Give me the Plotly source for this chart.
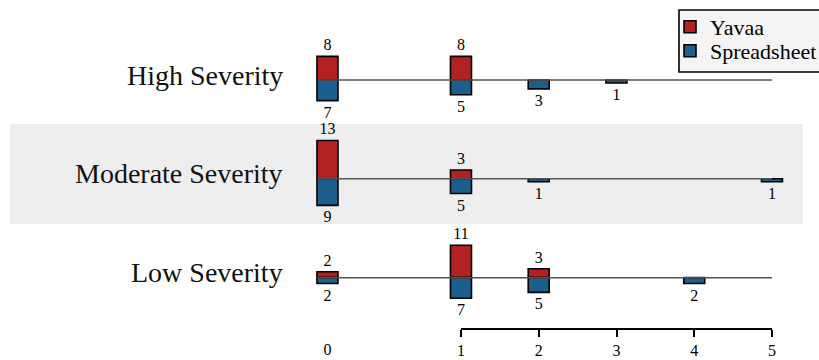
import plotly.graph_objects as go

# ---- data ----
severity_rows = ["High Severity", "Moderate Severity", "Low Severity"]
count_labels = ["0", "1", "2", "3", "4", "5"]

yavaa_high = [8, 8, 0, 0, 0, 0]
yavaa_moderate = [13, 3, 0, 0, 0, 0]
yavaa_low = [2, 11, 3, 0, 0, 0]

spreadsheet_high = [7, 5, 3, 1, 0, 0]
spreadsheet_moderate = [9, 5, 1, 0, 0, 1]
spreadsheet_low = [2, 7, 5, 0, 2, 0]

# ---- layout helpers ----
# the "0" column sits apart from the 1..5 scale (broken axis)
x_positions = [-0.717, 1, 2, 3, 4, 5]
row_baseline = [0, -33.5, -67]
bar_width = 0.27
FONT = "Liberation Serif, Times New Roman, serif"
RED = "#B22222"
BLUE = "#1C5E8E"

yavaa_rows = [yavaa_high, yavaa_moderate, yavaa_low]
sheet_rows = [spreadsheet_high, spreadsheet_moderate, spreadsheet_low]


def collect(rows, sign):
    xs, ys, bases, texts = [], [], [], []
    for base, vals in zip(row_baseline, rows):
        for xp, v in zip(x_positions, vals):
            if v == 0:
                continue
            xs.append(xp)
            ys.append(sign * v)
            bases.append(base)
            texts.append(str(v))
    return xs, ys, bases, texts


fig = go.Figure()

# baselines for each severity row
for base in row_baseline:
    fig.add_trace(go.Scatter(
        x=[x_positions[0] - bar_width / 2, x_positions[-1]], y=[base, base],
        mode="lines", line=dict(color="#555555", width=1.5),
        showlegend=False, hoverinfo="skip"))

for name, rows, sign, color, leg in [("Yavaa", yavaa_rows, 1, RED, "legend"),
                                     ("Spreadsheet", sheet_rows, -1, BLUE, "legend2")]:
    xs, ys, bases, texts = collect(rows, sign)
    fig.add_trace(go.Bar(
        name=name, x=xs, y=ys, base=bases, width=bar_width, legend=leg,
        marker=dict(color=color, line=dict(color="black", width=1.6)),
        text=texts, texttemplate="%{text}", textposition="outside",
        constraintext="none", cliponaxis=False,
        textfont=dict(family=FONT, size=16, color="black")))

# dummy trace so the 1..5 axis is rendered
fig.add_trace(go.Scatter(x=[1, 5], y=[None, None], xaxis="x2", mode="none",
                         showlegend=False, hoverinfo="skip"))

# row titles
for name, base in zip(severity_rows, row_baseline):
    fig.add_annotation(x=285 / 819, xref="paper", y=base, yref="y",
                       text=name, showarrow=False, xanchor="right",
                       yanchor="middle", yshift=5,
                       font=dict(family=FONT, size=28, color="#111111"))

# shaded band behind the middle row
fig.add_shape(type="rect", xref="paper", yref="paper",
              x0=10 / 819, x1=803 / 819, y0=1 - 224 / 360, y1=1 - 124 / 360,
              fillcolor="#eeeeee", line=dict(width=0), layer="below")

# legend frame shared by the two legend entries
fig.add_shape(type="rect", xref="paper", yref="paper",
              x0=679 / 819, x1=1.02, y0=1 - 72 / 360, y1=1 - 10 / 360,
              fillcolor="#f4f4f4", line=dict(color="black", width=1.6),
              layer="above")

legend_style = dict(x=670 / 819, xanchor="left", yanchor="middle",
                    bgcolor="rgba(0,0,0,0)", borderwidth=0,
                    font=dict(family=FONT, size=22, color="black"))

axis_pos = (360 - 329) / 360
fig.update_layout(
    width=819, height=360,
    margin=dict(l=0, r=0, t=0, b=0, autoexpand=False),
    paper_bgcolor="white", plot_bgcolor="rgba(0,0,0,0)",
    barmode="overlay",
    font=dict(family=FONT, size=16, color="black"),
    xaxis=dict(range=[-4.929, 5.605], domain=[0, 1], anchor="free",
               position=axis_pos, showgrid=False, zeroline=False,
               showline=False, ticks="", tickvals=[x_positions[0]],
               ticktext=[count_labels[0]], ticklabelstandoff=9,
               tickfont=dict(family=FONT, size=16, color="black")),
    xaxis2=dict(range=[1, 5], domain=[461 / 819, 772 / 819], anchor="free",
                position=axis_pos, showgrid=False, zeroline=False,
                showline=True, linecolor="black", linewidth=2,
                ticks="outside", ticklen=7, tickwidth=2, tickcolor="black",
                tickvals=x_positions[1:], ticktext=count_labels[1:],
                tickfont=dict(family=FONT, size=16, color="black")),
    yaxis=dict(range=[-94.92, 27.12], visible=False, showgrid=False,
               zeroline=False),
    legend=dict(y=1 - 27 / 360, **legend_style),
    legend2=dict(y=1 - 51 / 360, **legend_style),
    showlegend=True,
)

fig.write_html("out.html")
